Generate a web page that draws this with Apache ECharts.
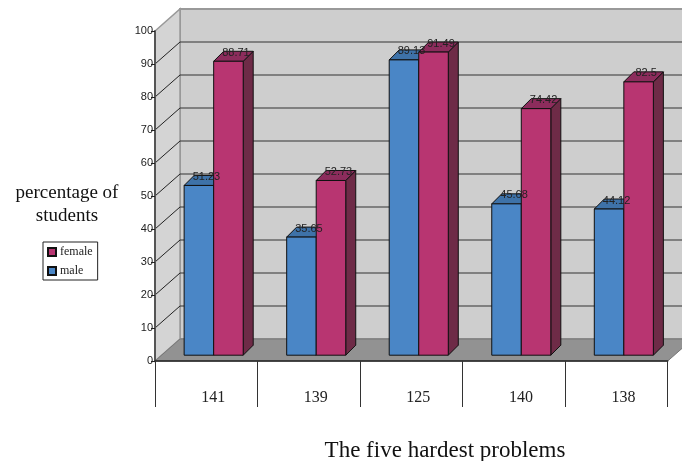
<!DOCTYPE html>
<html>
<head>
<meta charset="utf-8">
<style>
  html, body { margin: 0; padding: 0; background: #fff; }
  #chart { width: 682px; height: 461px; }
</style>
<script src="https://cdn.jsdelivr.net/npm/echarts@6/dist/echarts.min.js"></script>
</head>
<body>
<div id="chart"></div>
<script>
const problems = ["141", "139", "125", "140", "138"];
const male = [51.23, 35.65, 89.13, 45.68, 44.12];
const female = [88.71, 52.73, 91.49, 74.42, 82.5];
const gridTicks = [0, 10, 20, 30, 40, 50, 60, 70, 80, 90, 100];

// fake 3d depth, in pixels
const wallDX = 25, wallDY = -22;
const barDX = 10, barDY = -10;
const shiftX = 7.4, shiftY = -5.8;
const barFrac = 0.288;
const barStretch = 1.004;

const myChart = echarts.init(document.getElementById("chart"));

function poly(points, fill, stroke, lineWidth) {
  return {
    type: "polygon",
    shape: { points: points },
    style: { fill: fill, stroke: stroke, lineWidth: lineWidth || 1 },
  };
}

function seg(a, b, color, lineWidth) {
  return {
    type: "line",
    shape: { x1: a[0], y1: a[1], x2: b[0], y2: b[1] },
    style: { stroke: color, lineWidth: lineWidth, fill: null },
  };
}

// walls, floor and the gridlines behind the bars
function renderRoom(params, api) {
  const bl = api.coord([0, 0]);
  const band = api.size([1, 0])[0];
  const x0 = bl[0] - band / 2;
  const x1 = x0 + band * problems.length;
  const y0 = bl[1];
  const yTop = api.coord([0, 100])[1];
  const kids = [
    poly([[x0 + wallDX, y0 + wallDY], [x1 + wallDX, y0 + wallDY], [x1 + wallDX, yTop + wallDY], [x0 + wallDX, yTop + wallDY]], "#cecece", "#999", 2),
    poly([[x0, y0], [x0 + wallDX, y0 + wallDY], [x0 + wallDX, yTop + wallDY], [x0, yTop]], "#d4d4d4", "#999", 1.5),
  ];
  gridTicks.slice(1, -1).forEach(function (t) {
    const y = api.coord([0, t])[1];
    kids.push(seg([x0, y], [x0 + wallDX, y + wallDY], "#222", 1));
    kids.push(seg([x0 + wallDX, y + wallDY], [x1 + wallDX, y + wallDY], "#333", 1));
  });
  kids.push(poly([[x0, y0], [x0 + wallDX, y0 + wallDY], [x1 + wallDX, y0 + wallDY], [x1, y0]], "#929292", "#777", 1));
  return { type: "group", children: kids };
}

function barRenderer(side, front, top, right) {
  return function (params, api) {
    const cat = api.value(0);
    const val = api.value(1);
    const p = api.coord([cat, val]);
    const base = api.coord([cat, 0]);
    const w = api.size([1, 0])[0] * barFrac;
    const xL = base[0] + shiftX + (side === 0 ? -w : 0);
    const xR = xL + w;
    const yB = base[1] + shiftY;
    const yT = yB + (p[1] - base[1]) * barStretch;
    return {
      type: "group",
      children: [
        poly([[xR, yT], [xR + barDX, yT + barDY], [xR + barDX, yB + barDY], [xR, yB]], right, "#111", 1),
        poly([[xL, yT], [xL + barDX, yT + barDY], [xR + barDX, yT + barDY], [xR, yT]], top, "#111", 1),
        poly([[xL, yT], [xR, yT], [xR, yB], [xL, yB]], front, "#111", 1),
        {
          type: "text",
          z2: 100,
          style: {
            text: String(val),
            x: (xL + xR) / 2 + 7.5,
            y: yT - 8.5,
            align: "center",
            verticalAlign: "middle",
            fill: "#222",
            font: "11px 'Liberation Sans'",
          },
        },
      ],
    };
  };
}

const option = {
  animation: false,
  backgroundColor: "#fff",
  title: [
    {
      text: "percentage of\nstudents",
      left: 62,
      top: 177,
      textAlign: "center",
      textStyle: { fontFamily: "Liberation Serif", fontSize: 19, fontWeight: "normal", color: "#111", lineHeight: 23 },
    },
    {
      text: "The five hardest problems",
      left: 440,
      top: 434,
      textAlign: "center",
      textStyle: { fontFamily: "Liberation Serif", fontSize: 23, fontWeight: "normal", color: "#111" },
    },
  ],
  legend: {
    orient: "vertical",
    left: 43,
    top: 242,
    padding: [4, 5, 3, 4],
    itemGap: 7,
    itemWidth: 8,
    itemHeight: 8,
    borderColor: "#222",
    borderWidth: 1,
    borderRadius: 0,
    data: [
      { name: "female", icon: "rect" },
      { name: "male", icon: "rect" },
    ],
    textStyle: { fontFamily: "Liberation Serif", fontSize: 12, color: "#222", padding: [0, 0, 0, -1] },
  },
  grid: { left: 155, right: 14.3, top: 31, bottom: 100 },
  xAxis: {
    type: "category",
    data: problems,
    z: 3,
    axisLine: { lineStyle: { color: "#222", width: 1.5 } },
    axisTick: { show: true, length: 46, interval: 0, lineStyle: { color: "#333", width: 1 } },
    axisLabel: { margin: 29, interval: 0, fontFamily: "Liberation Serif", fontSize: 16, color: "#222", padding: [0, 0, 0, 14] },
  },
  yAxis: {
    type: "value",
    min: 0,
    max: 100,
    interval: 10,
    z: 3,
    splitLine: { show: false },
    axisLine: { show: true, lineStyle: { color: "#555", width: 2 } },
    axisTick: { show: true, length: 4, lineStyle: { color: "#222" } },
    axisLabel: { margin: 2, fontFamily: "Liberation Sans", fontSize: 11, color: "#222" },
  },
  series: [
    {
      name: "room",
      type: "custom",
      z: 1,
      silent: true,
      clip: false,
      data: [[0, 0]],
      renderItem: renderRoom,
    },
    {
      name: "male",
      type: "custom",
      z: 2,
      itemStyle: { color: "#4a86c6", borderColor: "#111", borderWidth: 1 },
      data: male.map(function (v, i) { return [i, v]; }),
      encode: { x: 0, y: 1 },
      renderItem: barRenderer(0, "#4a86c6", "#3e72a8", "#2f5a86"),
    },
    {
      name: "female",
      type: "custom",
      z: 2,
      itemStyle: { color: "#b83571", borderColor: "#111", borderWidth: 1 },
      data: female.map(function (v, i) { return [i, v]; }),
      encode: { x: 0, y: 1 },
      renderItem: barRenderer(1, "#b83571", "#8c2c5c", "#6e2b47"),
    },
  ],
};

myChart.setOption(option);
</script>
</body>
</html>
